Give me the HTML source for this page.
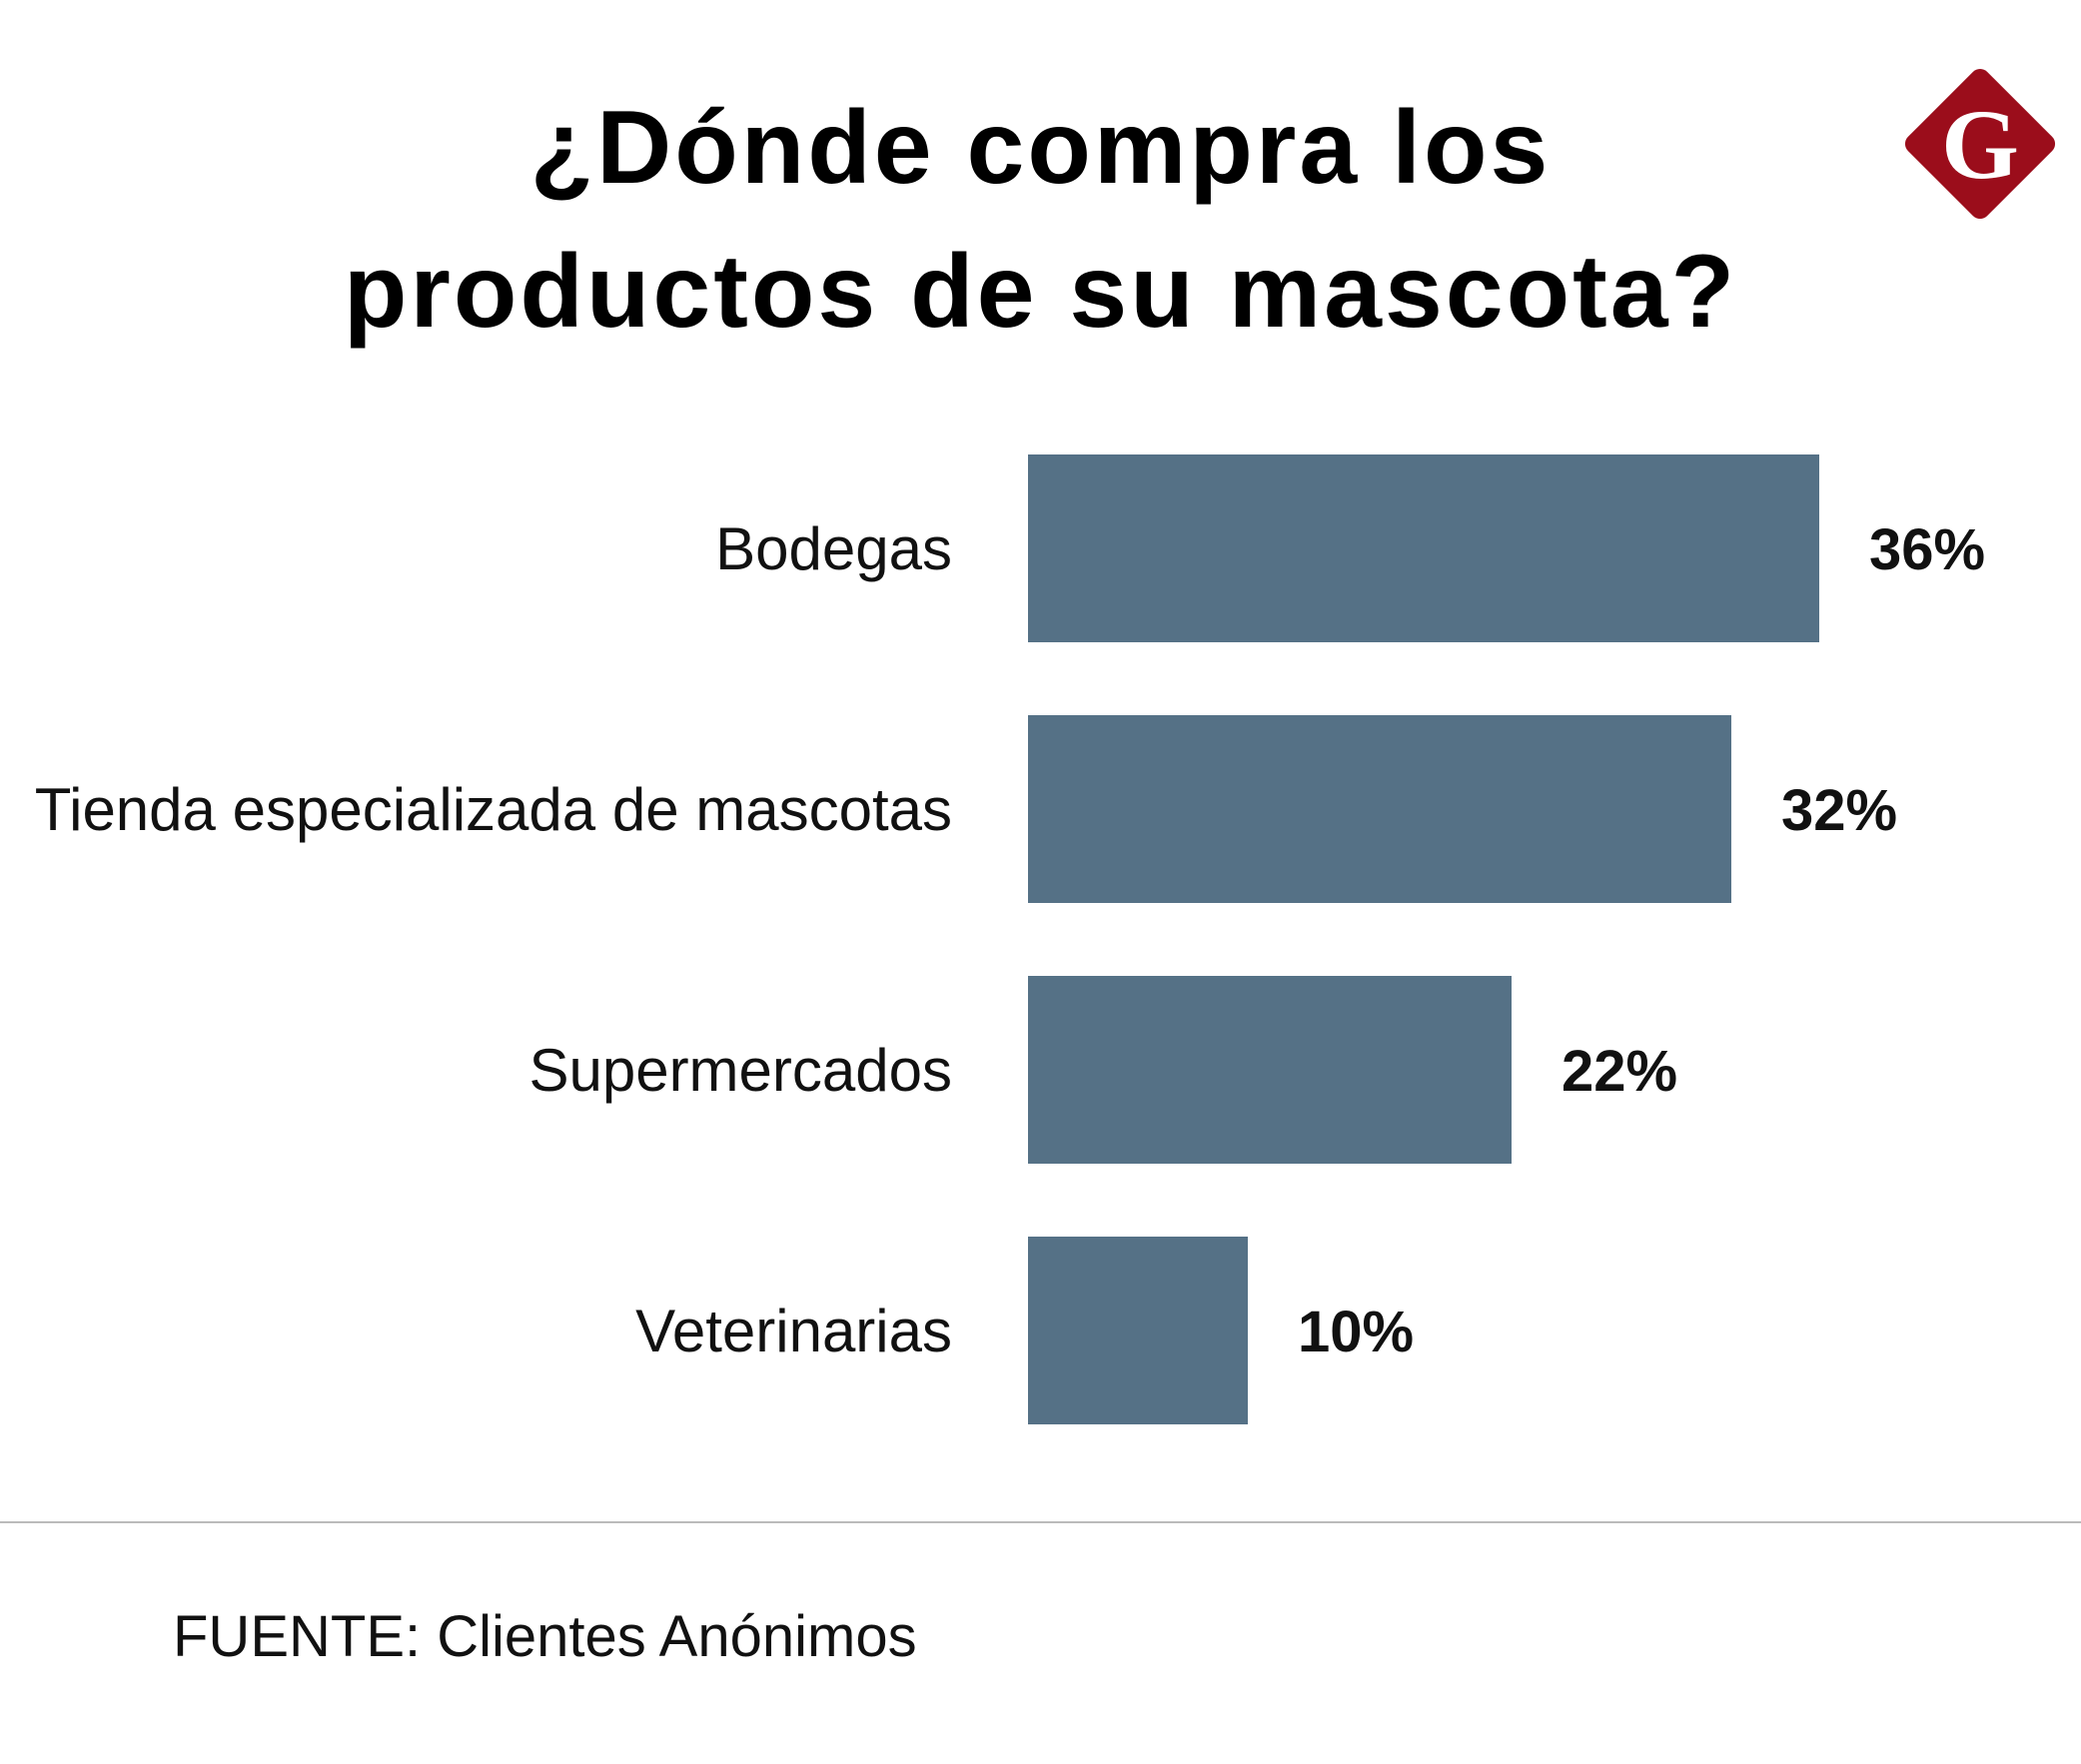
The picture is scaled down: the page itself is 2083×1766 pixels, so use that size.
<!DOCTYPE html>
<html><head><meta charset="utf-8">
<style>
html,body{margin:0;padding:0;background:#fff;}
body{width:2083px;height:1766px;position:relative;overflow:hidden;font-family:"Liberation Sans",sans-serif;}
#title{position:absolute;left:0;width:2083px;top:76px;text-align:center;font-weight:900;font-size:104px;line-height:144px;color:#000;letter-spacing:3px;}
svg{position:absolute;left:0;top:0;}
</style></head>
<body>
<div id="title">¿Dónde compra los<br>productos de su mascota?</div>
<svg width="2083" height="1766" id="chart">
  <g>
    <rect x="1926" y="88" width="112" height="112" rx="10" fill="#9b0d1b" transform="rotate(45 1982 144)"/>
    <text x="1982" y="178" text-anchor="middle" font-family="Liberation Serif,serif" font-weight="bold" font-size="100" fill="#fff">G</text>
  </g>
  <line x1="0" y1="1524" x2="2083" y2="1524" stroke="#bbb" stroke-width="2"/>
  <text x="173" y="1658" font-size="58" fill="#111">FUENTE: Clientes Anónimos</text>
</svg>
<script>
const categories = ["Bodegas","Tienda especializada de mascotas","Supermercados","Veterinarias"];
const values = [36,32,22,10];
const valueLabels = ["36%","32%","22%","10%"];
const svg = document.getElementById('chart');
const NS = 'http://www.w3.org/2000/svg';
const x0 = 1029, pxPer = 22.0;
const xScale = v => v * pxPer;
const yTop = i => 455 + i * 261;
const barH = 188;
categories.forEach((c, i) => {
  const r = document.createElementNS(NS, 'rect');
  r.setAttribute('x', x0); r.setAttribute('y', yTop(i));
  r.setAttribute('width', xScale(values[i])); r.setAttribute('height', barH);
  r.setAttribute('fill', '#557186');
  
  
  svg.appendChild(r);
  const t = document.createElementNS(NS, 'text');
  t.setAttribute('x', 953); t.setAttribute('y', yTop(i) + barH / 2 + 21);
  t.setAttribute('text-anchor', 'end'); t.setAttribute('font-size', '60'); t.setAttribute('fill', '#111');
  t.textContent = c;
  
  
  svg.appendChild(t);
  const v = document.createElementNS(NS, 'text');
  v.setAttribute('x', x0 + xScale(values[i]) + 50); v.setAttribute('y', yTop(i) + barH / 2 + 21);
  v.setAttribute('font-size', '58'); v.setAttribute('font-weight', 'bold'); v.setAttribute('fill', '#111');
  v.textContent = valueLabels[i];
  
  
  svg.appendChild(v);
});
</script>
</body></html>
